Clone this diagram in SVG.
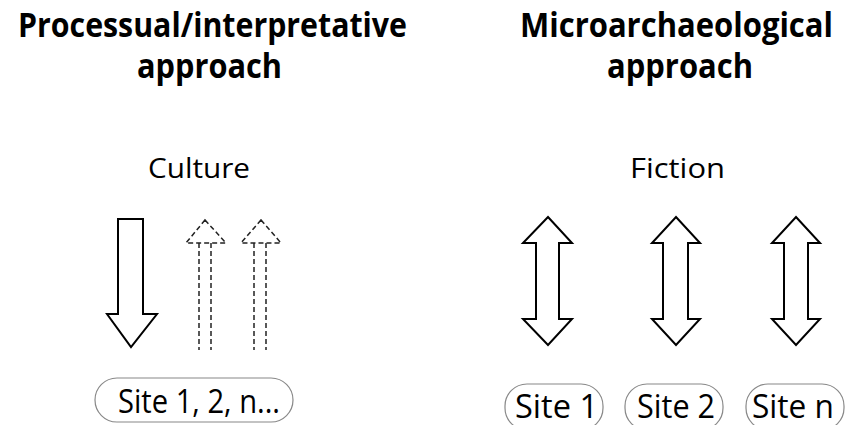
<svg xmlns="http://www.w3.org/2000/svg" width="845" height="425" viewBox="0 0 845 425">
<style>
.title{font-family:"Open Sans","Liberation Sans",sans-serif;font-weight:bold;font-size:34px;fill:#000}
.lab{font-family:"Open Sans","Liberation Sans",sans-serif;font-size:28px;fill:#000}
.site{font-family:"Open Sans","Liberation Sans",sans-serif;font-size:32px;fill:#000}
.box{fill:#fff;stroke:#888;stroke-width:1.2}
.arr{fill:#fff;stroke:#000;stroke-width:2;stroke-linejoin:miter}
.dash{fill:none;stroke:#222;stroke-width:1.5;stroke-dasharray:5,3}
</style>
<rect width="845" height="425" fill="#fff"/>
<g id="titles">
<text class="title" x="18" y="37" textLength="389" lengthAdjust="spacingAndGlyphs">Processual/interpretative</text>
<text class="title" x="137" y="78" textLength="145" lengthAdjust="spacingAndGlyphs">approach</text>
<text class="title" x="520" y="37" textLength="313" lengthAdjust="spacingAndGlyphs">Microarchaeological</text>
<text class="title" x="607" y="78" textLength="146" lengthAdjust="spacingAndGlyphs">approach</text>
</g>
<g id="culture"><text class="lab" x="148" y="178" textLength="102" lengthAdjust="spacingAndGlyphs">Culture</text></g>
<g id="fiction"><text class="lab" x="630" y="178" textLength="95" lengthAdjust="spacingAndGlyphs">Fiction</text></g>
<g id="site-1-2-n">
<rect class="box" x="95" y="378" width="198" height="44" rx="22"/>
<text class="site" x="118" y="413" textLength="162" lengthAdjust="spacingAndGlyphs">Site 1, 2, n...</text>
</g>
<g id="site-1">
<rect class="box" x="505" y="384" width="98" height="46" rx="22"/>
<text class="site" x="515" y="418" textLength="83" lengthAdjust="spacingAndGlyphs">Site 1</text>
</g>
<g id="site-2">
<rect class="box" x="625" y="384" width="98" height="46" rx="22"/>
<text class="site" x="637" y="418" textLength="78" lengthAdjust="spacingAndGlyphs">Site 2</text>
</g>
<g id="site-n">
<rect class="box" x="746" y="384" width="98" height="46" rx="22"/>
<text class="site" x="752" y="418" textLength="82" lengthAdjust="spacingAndGlyphs">Site n</text>
</g>
<g id="connectors">
<polygon class="arr" points="118,219 143,219 143,314 157,314 131,347 107,314 118,314"/>
<polygon class="dash" points="205,220 226,243 186,243"/>
<line class="dash" x1="199" y1="243" x2="199" y2="350"/>
<line class="dash" x1="211" y1="243" x2="211" y2="350"/>
<polygon class="dash" points="261,220 281,243 241,243"/>
<line class="dash" x1="254" y1="243" x2="254" y2="350"/>
<line class="dash" x1="266" y1="243" x2="266" y2="350"/>
<polygon class="arr" points="548,217 572,243 559,243 559,319 572,319 548,345 523,319 536,319 536,243 523,243"/>
<polygon class="arr" points="676,217 700,243 688,243 688,319 700,319 676,345 652,319 663,319 663,243 652,243"/>
<polygon class="arr" points="796,217 820,243 808,243 808,319 820,319 796,345 772,319 784,319 784,243 772,243"/>
</g>
</svg>
